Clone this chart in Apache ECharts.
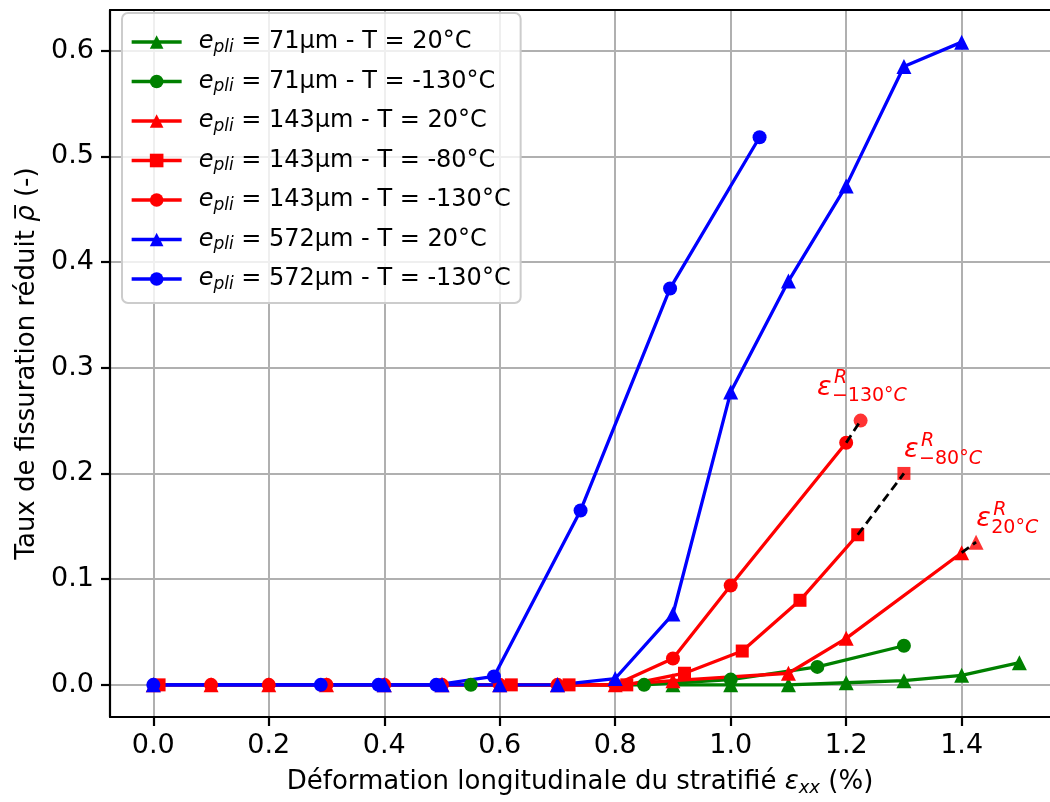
<!DOCTYPE html>
<html><head><meta charset="utf-8">
<script src="https://cdn.jsdelivr.net/npm/echarts@6/dist/echarts.min.js"></script>
<style>html,body{margin:0;padding:0;background:#fff}#c{width:1050px;height:802px}</style>
</head><body><div id="c"></div>
<script>
// ---- data ----
const xTicks = [0, 0.2, 0.4, 0.6, 0.8, 1.0, 1.2, 1.4];
const yTicks = [0, 0.1, 0.2, 0.3, 0.4, 0.5, 0.6];
const seriesNames = [
  "71µm - T = 20°C", "71µm - T = -130°C", "143µm - T = 20°C", "143µm - T = -80°C",
  "143µm - T = -130°C", "572µm - T = 20°C", "572µm - T = -130°C"
];
const g20x = [0.9, 1.0, 1.1, 1.2, 1.3, 1.4, 1.5];
const g20y = [0, 0, 0, 0.002, 0.004, 0.009, 0.021];
const g130x = [0.55, 0.85, 1.0, 1.15, 1.3];
const g130y = [0, 0, 0.005, 0.017, 0.037];
const r20x = [0, 0.1, 0.2, 0.3, 0.4, 0.5, 0.6, 0.7, 0.8, 0.9, 1.1, 1.2, 1.4];
const r20y = [0, 0, 0, 0, 0, 0, 0, 0, 0, 0.004, 0.011, 0.044, 0.125];
const r80x = [0.01, 0.62, 0.72, 0.82, 0.92, 1.02, 1.12, 1.22];
const r80y = [0, 0, 0, 0, 0.011, 0.032, 0.080, 0.142];
const r130x = [0.1, 0.2, 0.3, 0.4, 0.5, 0.6, 0.7, 0.8, 0.9, 1.0, 1.2];
const r130y = [0, 0, 0, 0, 0, 0, 0, 0, 0.025, 0.094, 0.229];
const b20x = [0, 0.4, 0.5, 0.6, 0.7, 0.8, 0.9, 1.0, 1.1, 1.2, 1.3, 1.4];
const b20y = [0, 0, 0, 0, 0, 0.006, 0.067, 0.277, 0.382, 0.472, 0.585, 0.608];
const b130x = [0, 0.29, 0.39, 0.49, 0.59, 0.74, 0.895, 1.05];
const b130y = [0, 0, 0, 0, 0.008, 0.165, 0.375, 0.518];
// rupture points (last measured point -> rupture point)
const rup130x = [1.2, 1.225], rup130y = [0.229, 0.25];
const rup80x = [1.22, 1.3], rup80y = [0.142, 0.2];
const rup20x = [1.4, 1.425], rup20y = [0.125, 0.135];
// annotation anchors (data coords of the epsilon baseline-left) and subscripts
const annX = [1.151, 1.302, 1.427];
const annY = [0.2737, 0.2144, 0.1495];
const annSub = ["−130°", "−80°", "20°"];

// ---- chart ----
const FONT = 'DejaVu Sans';
const pts = (xs, ys) => xs.map((x, i) => [x, ys[i]]);
const GREEN = '#008000', RED = '#ff0000', BLUE = '#0000ff';
const SYM = { tri: ['triangle', 15], cir: ['circle', 14], sq: ['rect', 13] };
function lineSeries(name, xs, ys, color, sym) {
  return {
    name: name, type: 'line', data: pts(xs, ys),
    symbol: SYM[sym][0], symbolSize: SYM[sym][1], showSymbol: true,
    lineStyle: { color: color, width: 3.3 }, itemStyle: { color: color },
    emphasis: { disabled: true }, animation: false, z: 3
  };
}
function rupMarker(xs, ys, sym) {
  return { type: 'scatter', data: [pts(xs, ys)[1]], symbol: SYM[sym][0], symbolSize: SYM[sym][1],
    itemStyle: { color: RED }, animation: false, z: 4, emphasis: { disabled: true } };
}
function rupDash(xs, ys) {
  return { type: 'line', data: pts(xs, ys), symbol: 'none',
    lineStyle: { color: '#000', width: 2.8, type: [9, 5] }, animation: false, z: 5, emphasis: { disabled: true } };
}
const XMIN = -0.075, XMAX = 1.553;
const chart = echarts.init(document.getElementById('c'), null, { renderer: 'canvas' });
const option = {
  backgroundColor: '#fff',
  textStyle: { fontFamily: FONT },
  grid: { left: 110, right: 0, top: 10, bottom: 82, show: false, containLabel: false },
  xAxis: [{
    type: 'value', min: XMIN, max: XMAX,
    name: 'Déformation longitudinale du stratifié {e|ε}{s|xx} (%)',
    nameLocation: 'middle', nameGap: 50,
    nameTextStyle: { fontFamily: FONT, fontSize: 26, color: '#000',
      rich: { e: { fontFamily: FONT, fontSize: 26, fontStyle: 'italic', color: '#000', lineHeight: 30 },
              s: { fontFamily: FONT, fontSize: 18, fontStyle: 'italic', color: '#000', lineHeight: 14, verticalAlign: 'bottom' } } },
    axisLine: { show: true, onZero: false, lineStyle: { color: '#000', width: 2.2 } },
    axisTick: { show: true, customValues: xTicks, length: 9, lineStyle: { color: '#000', width: 2.2 } },
    axisLabel: { customValues: xTicks, margin: 15, fontFamily: FONT, fontSize: 27, color: '#000', formatter: v => v.toFixed(1) },
    splitLine: { show: true, lineStyle: { color: '#b0b0b0', width: 2 } }
  }, {
    type: 'value', min: XMIN, max: XMAX, position: 'top',
    axisLine: { show: true, onZero: false, lineStyle: { color: '#000', width: 2.2 } },
    axisTick: { show: false }, axisLabel: { show: false }, splitLine: { show: false }
  }],
  yAxis: {
    type: 'value', min: -0.0304, max: 0.6384,
    name: 'Taux de fissuration réduit {r|ρ̅} (-)',
    nameLocation: 'middle', nameGap: 70,
    nameTextStyle: { fontFamily: FONT, fontSize: 26, color: '#000',
      rich: { r: { fontFamily: FONT, fontSize: 26, fontStyle: 'italic', color: '#000' } } },
    axisLine: { show: true, onZero: false, lineStyle: { color: '#000', width: 2.2 } },
    axisTick: { show: true, customValues: yTicks, length: 9, lineStyle: { color: '#000', width: 2.2 } },
    axisLabel: { customValues: yTicks, margin: 16, fontFamily: FONT, fontSize: 27, color: '#000', formatter: v => v.toFixed(1) },
    splitLine: { show: true, lineStyle: { color: '#b0b0b0', width: 2 } }
  },
  legend: {
    data: seriesNames, orient: 'vertical', left: 122, top: 13,
    padding: [17, 10, 10, 8], itemGap: 13.5, itemWidth: 50, itemHeight: 17,
    backgroundColor: 'rgba(255,255,255,0.8)', borderColor: '#cccccc', borderWidth: 2, borderRadius: 6,
    selectedMode: false, lineStyle: { width: 3.3 },
    formatter: n => '{i|e}{s|pli}{n| = ' + n + '}',
    textStyle: { fontFamily: FONT, fontSize: 24, color: '#000', padding: [0, 0, 0, 12],
      rich: {
        i: { fontFamily: FONT, fontSize: 24, fontStyle: 'italic', color: '#000', lineHeight: 28 },
        s: { fontFamily: FONT, fontSize: 17, fontStyle: 'italic', color: '#000', lineHeight: 14, verticalAlign: 'bottom' },
        n: { fontFamily: FONT, fontSize: 24, color: '#000', lineHeight: 28 }
      } }
  },
  series: [
    lineSeries(seriesNames[0], g20x, g20y, GREEN, 'tri'),
    lineSeries(seriesNames[1], g130x, g130y, GREEN, 'cir'),
    lineSeries(seriesNames[2], r20x, r20y, RED, 'tri'),
    lineSeries(seriesNames[3], r80x, r80y, RED, 'sq'),
    lineSeries(seriesNames[4], r130x, r130y, RED, 'cir'),
    lineSeries(seriesNames[5], b20x, b20y, BLUE, 'tri'),
    lineSeries(seriesNames[6], b130x, b130y, BLUE, 'cir'),
    rupMarker(rup130x, rup130y, 'cir'),
    rupMarker(rup80x, rup80y, 'sq'),
    rupMarker(rup20x, rup20y, 'tri'),
    rupDash(rup130x, rup130y),
    rupDash(rup80x, rup80y),
    rupDash(rup20x, rup20y)
  ]
};
chart.setOption(option);
const graphics = [];
annX.forEach((x, i) => {
  const p = chart.convertToPixel({ xAxisIndex: 0, yAxisIndex: 0 }, [x, annY[i]]);
  const base = { type: 'text', z: 10, silent: true };
  graphics.push(Object.assign({}, base, { x: p[0] - 1, y: p[1] - 8,
    style: { text: 'ε', font: 'italic 27px "DejaVu Sans"', fill: RED, align: 'left', verticalAlign: 'middle' } }));
  graphics.push(Object.assign({}, base, { x: p[0] + 16, y: p[1] - 17,
    style: { text: 'R', font: 'italic 19px "DejaVu Sans"', fill: RED, align: 'left', verticalAlign: 'middle' } }));
  graphics.push(Object.assign({}, base, { x: p[0] + 14, y: p[1] + 1,
    style: { text: '{s|' + annSub[i] + '}{c|C}', fill: RED, align: 'left', verticalAlign: 'middle',
      rich: { s: { fontFamily: FONT, fontSize: 19, fill: RED }, c: { fontFamily: FONT, fontSize: 19, fontStyle: 'italic', fill: RED } } } }));
});
chart.setOption({ graphic: graphics });
</script></body></html>
